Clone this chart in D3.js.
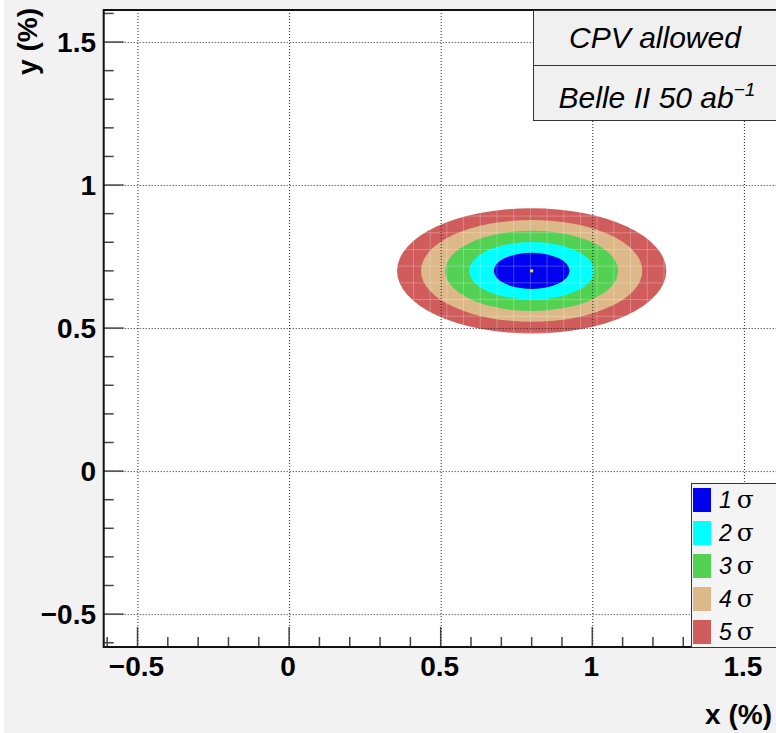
<!DOCTYPE html>
<html lang="en"><head><meta charset="utf-8">
<title>CPV allowed</title>
<script src="https://cdnjs.cloudflare.com/ajax/libs/d3/7.8.5/d3.min.js"></script>
<style>
  body{ margin:0; background:#fff; }
  .tick-label{ font-family:"Liberation Sans", Arial, sans-serif; font-weight:bold; font-size:28px; fill:#000; }
  .axis-title{ font-family:"Liberation Sans", Arial, sans-serif; font-weight:bold; font-size:28px; fill:#000; }
  .box-text{ font-family:"Liberation Sans", Arial, sans-serif; font-style:italic; font-size:30px; fill:#000; }
  .leg-text{ font-family:"Liberation Sans", Arial, sans-serif; font-size:23px; fill:#000; }
</style>
</head>
<body>
<svg id="chart" width="776" height="733"></svg>
<script>
// contour levels (semi-axes in % units)
var sigmaLabels = ["1", "2", "3", "4", "5"];
var sigmaColors = ["#0000f0", "#00ffff", "#52d152", "#ddb888", "#d05c5c"];
var radiusX = [0.125, 0.206, 0.285, 0.365, 0.444];
var radiusY = [0.063, 0.101, 0.140, 0.178, 0.219];
var centre = [0.8, 0.7];

var majorTicks = [-0.5, 0, 0.5, 1, 1.5];
var tickLabels = ["\u22120.5", "0", "0.5", "1", "1.5"];
var minorTicks = [-0.6, -0.4, -0.3, -0.2, -0.1, 0.1, 0.2, 0.3, 0.4, 0.6, 0.7, 0.8, 0.9, 1.1, 1.2, 1.3, 1.4, 1.6];

var svg = d3.select("#chart");

var x = d3.scaleLinear().domain([-0.6115, 1.6115]).range([103.7, 777.7]);
var y = d3.scaleLinear().domain([-0.615, 1.612]).range([647, 10]);

// canvas + frame
svg.append("rect").attr("x", 4).attr("y", 0).attr("width", 772).attr("height", 733).attr("fill", "#f2f2f2");
svg.append("rect").attr("x", x.range()[0]).attr("y", y.range()[1])
  .attr("width", 776 - x.range()[0]).attr("height", y.range()[0] - y.range()[1])
  .attr("fill", "#fff");

var clip = svg.append("clipPath").attr("id", "outer")
clip.append("ellipse")
  .attr("cx", x(centre[0])).attr("cy", y(centre[1]))
  .attr("rx", x(centre[0] + radiusX[4]) - x(centre[0]))
  .attr("ry", y(centre[1]) - y(centre[1] + radiusY[4]));

// filled contours, outermost first
var levels = d3.range(sigmaLabels.length).reverse();
svg.append("g").selectAll("ellipse").data(levels).enter().append("ellipse")
  .attr("cx", x(centre[0]))
  .attr("cy", y(centre[1]))
  .attr("rx", function(i){ return x(centre[0] + radiusX[i]) - x(centre[0]); })
  .attr("ry", function(i){ return y(centre[1]) - y(centre[1] + radiusY[i]); })
  .attr("fill", function(i){ return sigmaColors[i]; });

// faint histogram cell edges inside the filled area
var cells = svg.append("g").attr("clip-path", "url(#outer)")
  .attr("stroke", "#fff").attr("stroke-opacity", 0.25).attr("stroke-width", 1);
d3.range(x(centre[0] - 0.5), x(centre[0] + 0.5), 16.7).forEach(function(px){
  cells.append("line").attr("x1", px).attr("x2", px).attr("y1", 190).attr("y2", 350);
});
d3.range(y(centre[1] + 0.25), y(centre[1] - 0.25), 16.7).forEach(function(py){
  cells.append("line").attr("y1", py).attr("y2", py).attr("x1", 380).attr("x2", 680);
});

// best-fit point
svg.append("rect").attr("x", x(centre[0]) - 1.5).attr("y", y(centre[1]) - 1.5)
  .attr("width", 3).attr("height", 3).attr("fill", "#f2e020");

// dotted grid
var grid = svg.append("g").attr("stroke", "#222").attr("stroke-width", 1).attr("stroke-dasharray", "1,2");
majorTicks.forEach(function(v){
  grid.append("line").attr("x1", x(v) + 0.5).attr("x2", x(v) + 0.5).attr("y1", y.range()[1]).attr("y2", y.range()[0]);
  grid.append("line").attr("y1", y(v) + 0.5).attr("y2", y(v) + 0.5).attr("x1", x.range()[0]).attr("x2", 776);
});

// ticks
var ticks = svg.append("g").attr("stroke", "#444").attr("stroke-width", 1.5);
majorTicks.forEach(function(v){
  ticks.append("line").attr("x1", x(v)).attr("x2", x(v)).attr("y1", 647).attr("y2", 627);
  ticks.append("line").attr("y1", y(v)).attr("y2", y(v)).attr("x1", x.range()[0]).attr("x2", x.range()[0] + 20);
});
minorTicks.forEach(function(v){
  ticks.append("line").attr("x1", x(v)).attr("x2", x(v)).attr("y1", 647).attr("y2", 637);
  ticks.append("line").attr("y1", y(v)).attr("y2", y(v)).attr("x1", x.range()[0]).attr("x2", x.range()[0] + 10);
});

// frame edges
svg.append("path")
  .attr("d", "M776," + y.range()[1] + "H" + x.range()[0] + "V" + y.range()[0] + "H776")
  .attr("fill", "none").attr("stroke", "#111").attr("stroke-width", 2);

// tick labels
svg.append("g").selectAll("text").data(majorTicks).enter().append("text")
  .attr("class", "tick-label")
  .attr("x", function(d){ return x(d) - 1; })
  .attr("y", 676)
  .attr("text-anchor", "middle")
  .text(function(d, i){ return tickLabels[i]; });
svg.append("g").selectAll("text").data(majorTicks).enter().append("text")
  .attr("class", "tick-label")
  .attr("x", 96)
  .attr("y", function(d){ return y(d) + 10; })
  .attr("text-anchor", "end")
  .text(function(d, i){ return tickLabels[i]; });

// axis titles
svg.append("text").attr("class", "axis-title")
  .attr("x", 772).attr("y", 724).attr("text-anchor", "end").text("x (%)");
svg.append("text").attr("class", "axis-title")
  .attr("transform", "translate(37,8) rotate(-90)")
  .attr("text-anchor", "end").text("y (%)");

// label boxes top right
var boxes = svg.append("g");
boxes.append("rect").attr("x", 533.5).attr("y", 10.5).attr("width", 250).attr("height", 55)
  .attr("fill", "#f0f0f0").attr("stroke", "#333").attr("stroke-width", 1);
boxes.append("rect").attr("x", 533.5).attr("y", 65.5).attr("width", 250).attr("height", 55)
  .attr("fill", "#f0f0f0").attr("stroke", "#333").attr("stroke-width", 1);
boxes.append("text").attr("class", "box-text").attr("x", 655).attr("y", 48)
  .attr("text-anchor", "middle").text("CPV allowed");
var belle = boxes.append("text").attr("class", "box-text").attr("x", 657).attr("y", 108)
  .attr("text-anchor", "middle");
belle.append("tspan").text("Belle II 50 ab");
belle.append("tspan").attr("dy", -12).attr("font-size", "19px").text("\u22121");

// legend
var legend = svg.append("g");
legend.append("rect").attr("x", 691.5).attr("y", 483.5).attr("width", 100).attr("height", 164)
  .attr("fill", "#f4f4f4").attr("stroke", "#333").attr("stroke-width", 1);
var rows = legend.selectAll("g.row").data(sigmaLabels).enter().append("g").attr("class", "row")
  .attr("transform", function(d, i){ return "translate(0," + (500 + i * 33) + ")"; });
rows.append("rect").attr("x", 693).attr("y", -12).attr("width", 18).attr("height", 24)
  .attr("fill", function(d, i){ return sigmaColors[i]; });
var lt = rows.append("text").attr("class", "leg-text").attr("x", 719).attr("y", 8);
lt.append("tspan").attr("font-style", "italic").text(function(d){ return d; });
lt.append("tspan").attr("dx", 5).attr("font-family", "DejaVu Serif").attr("font-size", "25px").text("\u03c3");
</script>
</body></html>
